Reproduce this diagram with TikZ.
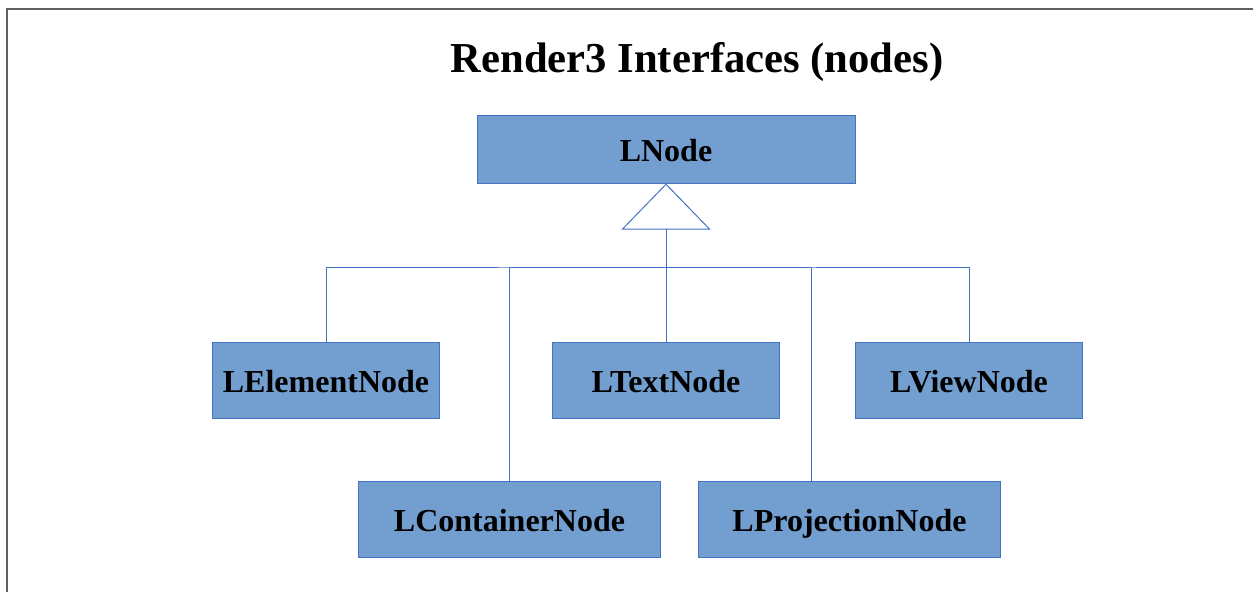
\documentclass[tikz,border=0pt]{standalone}
\usepackage{fontspec}
\setmainfont{Liberation Serif}
\usepackage{xcolor}
\usepackage{tikz}
\usetikzlibrary{arrows.meta}

\definecolor{boxfill}{RGB}{114,159,207}
\definecolor{boxline}{RGB}{68,114,196}
\definecolor{framegray}{RGB}{96,96,96}

\begin{document}
\begin{tikzpicture}[
  x=0.75pt, y=-0.75pt,
  cls/.style={draw=boxline, fill=boxfill, line width=0.75pt, inner sep=0pt,
    text height=18pt, text depth=0pt,
    font=\fontsize{24}{28}\selectfont\bfseries, minimum height=57pt},
  midcls/.style={cls, minimum width=170pt},
  lowcls/.style={cls, minimum width=227pt},
  link/.style={draw=boxline, line width=0.75pt},
  inherit/.style={link, -{Triangle[open, length=34.5pt, width=66.75pt]}}
]
\useasboundingbox (0,0) rectangle (1253,592);
\draw[framegray, line width=1.5pt] (1253,9) -- (7,9) -- (7,592);
\node[anchor=base, font=\fontsize{32}{38}\selectfont\bfseries] (title) at (697,73) {Render3 Interfaces (nodes)};
\node[cls, minimum width=283.5pt, minimum height=51pt] (lnode) at (666,149) {LNode};
\node[midcls] (lelem) at (326,380) {LElementNode};
\node[midcls] (ltext) at (666,380) {LTextNode};
\node[midcls] (lview) at (969,380) {LViewNode};
\node[lowcls] (lcont) at (509.5,519) {LContainerNode};
\node[lowcls] (lproj) at (849.5,519) {LProjectionNode};
\coordinate (bus) at (666,267);
\draw[inherit] (ltext.north) -- (lnode.south);
\draw[link] (lelem.north) |- (bus) -| (lview.north);
\draw[link] (lcont.north) |- (bus);
\draw[link] ([xshift=85.5pt]lproj.north west) |- (bus);
\end{tikzpicture}
\end{document}
